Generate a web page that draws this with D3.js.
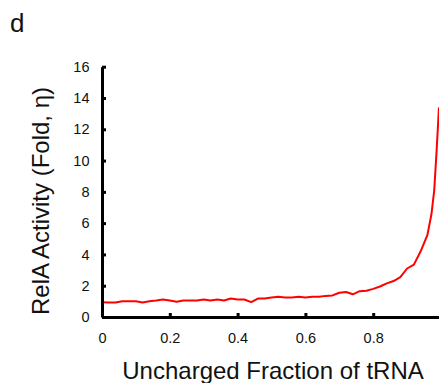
<!DOCTYPE html>
<html>
<head>
<meta charset="utf-8">
<script src="https://cdn.jsdelivr.net/npm/d3@7"></script>
<style>
  body { margin: 0; background: #fff; }
  text { font-family: Arial, "Liberation Sans", sans-serif; fill: #111; }
</style>
</head>
<body>
<div id="chart"></div>
<script>
// data
var FRACTION = [0, 0.02, 0.04, 0.06, 0.08, 0.10, 0.12, 0.14, 0.16, 0.18,
                0.20, 0.22, 0.24, 0.26, 0.28, 0.30, 0.32, 0.34, 0.36, 0.38,
                0.40, 0.42, 0.44, 0.46, 0.48, 0.50, 0.52, 0.54, 0.56, 0.58,
                0.60, 0.62, 0.64, 0.66, 0.68, 0.70, 0.72, 0.74, 0.76, 0.78,
                0.80, 0.82, 0.84, 0.86, 0.88, 0.90, 0.92, 0.94, 0.96, 0.972,
                0.98, 0.987, 0.994];
var ACTIVITY = [0.95, 0.92, 0.93, 1.0, 1.0, 1.0, 0.93, 1.0, 1.05, 1.12,
                1.05, 0.98, 1.05, 1.05, 1.05, 1.12, 1.05, 1.12, 1.05, 1.18,
                1.12, 1.12, 0.95, 1.18, 1.18, 1.25, 1.3, 1.25, 1.25, 1.3,
                1.25, 1.3, 1.3, 1.35, 1.38, 1.55, 1.6, 1.45, 1.65, 1.68,
                1.8, 1.95, 2.15, 2.3, 2.55, 3.1, 3.35, 4.2, 5.25, 6.6,
                8.1, 10.6, 13.4];
var X_TICKS = [0, 0.2, 0.4, 0.6, 0.8];
var Y_TICKS = [0, 2, 4, 6, 8, 10, 12, 14, 16];

var W = 439, H = 383;
var LEFT = 102, RIGHT = 441, TOP = 66.7, BOTTOM = 317;

var svg = d3.select("#chart").append("svg")
    .attr("width", W)
    .attr("height", H);

var x = d3.scaleLinear().domain([0, 1]).range([LEFT, RIGHT]);
var y = d3.scaleLinear().domain([0, 16]).range([BOTTOM, TOP]);

// panel letter
svg.append("text")
    .attr("x", 10)
    .attr("y", 32)
    .style("font-size", "26px")
    .text("d");

// curve
var line = d3.line()
    .x(function(d, i) { return x(FRACTION[i]); })
    .y(function(d) { return y(d); });

svg.append("path")
    .datum(ACTIVITY)
    .attr("d", line)
    .attr("fill", "none")
    .attr("stroke", "#ff0000")
    .attr("stroke-width", 2)
    .attr("stroke-linejoin", "round");

// axes
var xAxis = svg.append("g")
    .attr("transform", "translate(0," + BOTTOM + ")")
    .call(d3.axisBottom(x).tickValues(X_TICKS).tickSizeInner(-4).tickSizeOuter(0)
        .tickFormat(function(d) { return d === 0 ? "0" : d3.format(".1f")(d); }));

var yAxis = svg.append("g")
    .attr("transform", "translate(" + LEFT + ",0)")
    .call(d3.axisLeft(y).tickValues(Y_TICKS).tickSizeInner(-4).tickSizeOuter(0));

[xAxis, yAxis].forEach(function(g) {
    g.select(".domain").attr("stroke", "#000").attr("stroke-width", 3);
    g.selectAll(".tick line").attr("stroke", "#000").attr("stroke-width", 3);
    g.selectAll(".tick text").style("font-size", "14.5px").attr("fill", "#111");
});
xAxis.selectAll(".tick text").attr("y", 16);
yAxis.selectAll(".tick text").attr("x", -12.5);

// axis titles
svg.append("text")
    .attr("x", 273)
    .attr("y", 379)
    .attr("text-anchor", "middle")
    .style("font-size", "24px")
    .text("Uncharged Fraction of tRNA");

svg.append("text")
    .attr("transform", "translate(49,201) rotate(-90)")
    .attr("text-anchor", "middle")
    .style("font-size", "24px")
    .text("RelA Activity (Fold, \u03b7)");
</script>
</body>
</html>
